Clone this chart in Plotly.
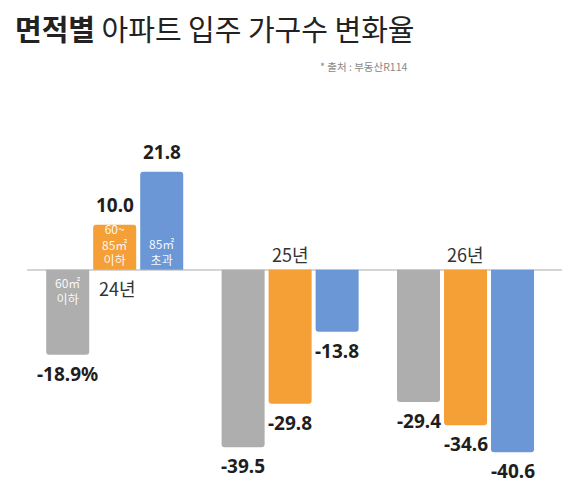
import plotly.graph_objects as go

years = ['24년', '25년', '26년']
series_names = ['60㎡ 이하', '60~85㎡ 이하', '85㎡ 초과']
small = [-18.9, -39.5, -29.4]
mid = [10.0, -29.8, -34.6]
large = [21.8, -13.8, -40.6]
# size labels shown only inside the 24년 bars
inner_labels = ['60㎡<br>이하', '60~<br>85㎡<br>이하', '85㎡<br>초과']

colors = ['#AEAEAE', '#F59F37', '#6B97D6']
font_kr = 'Noto Sans CJK KR'
font_num = 'Noto Sans, Noto Sans CJK KR'

fig = go.Figure()
all_values = [small, mid, large]
for i, vals in enumerate(all_values):
    fig.add_trace(go.Bar(
        x=years, y=vals, name=series_names[i],
        marker=dict(color=colors[i], line=dict(width=0)),
    ))

offsets = [-47, 0, 47]

# value labels at the bar ends
for i, vals in enumerate(all_values):
    for j, v in enumerate(vals):
        s = f'{v:.1f}'
        if i == 0 and j == 0:
            s += '%'
        fig.add_annotation(
            x=years[j], y=v, xshift=offsets[i], text=s, showarrow=False,
            yanchor='top' if v < 0 else 'bottom', yshift=-4 if v < 0 else 5,
            font=dict(family=font_num, size=19, color='#1E1E1E', weight='bold'),
        )

# labels inside the first group's bars
for i, vals in enumerate(all_values):
    v = vals[0]
    fig.add_annotation(
        x=years[0], y=0, xshift=offsets[i], text=inner_labels[i], showarrow=False,
        yanchor='top' if v < 0 else 'bottom', yshift=-2 if v < 0 else 0,
        font=dict(family=font_kr, size=12, color='rgba(255,255,255,0.95)'),
    )

# year labels next to the zero line
for j, yr in enumerate(years):
    up = mid[j] < 0
    fig.add_annotation(
        x=yr, y=0, text=yr, showarrow=False,
        yanchor='bottom' if up else 'top', yshift=1 if up else -3,
        xshift=0 if up else 3,
        font=dict(family=font_kr, size=18, color='#333333'),
    )

fig.add_annotation(
    xref='paper', yref='paper', x=0.716, y=1.063, text='* 출처 : 부동산R114',
    showarrow=False, xanchor='right', yanchor='middle',
    font=dict(family=font_kr, size=10.5, color='#888888'),
)

fig.update_layout(
    width=570, height=491,
    paper_bgcolor='white', plot_bgcolor='white',
    margin=dict(l=19, r=16, t=82, b=36),
    title=dict(text='<b>면적별</b> 아파트 입주 가구수 변화율', xref='container', yref='container',
               x=7 / 570, xanchor='left', y=1 - 23 / 491, yanchor='middle',
               font=dict(family=font_kr, size=29, color='#222222')),
    barmode='group', bargap=0.196, bargroupgap=0.085, barcornerradius=3,
    showlegend=False,
)
fig.update_xaxes(range=[-0.5, 2.55], showticklabels=False, showgrid=False, showline=False, ticks='')
fig.update_yaxes(range=[-43, 40], showticklabels=False, showgrid=False, showline=False, ticks='',
                 zeroline=True, zerolinecolor='#D5D5D5', zerolinewidth=1.5)

fig.write_html('out.html')
